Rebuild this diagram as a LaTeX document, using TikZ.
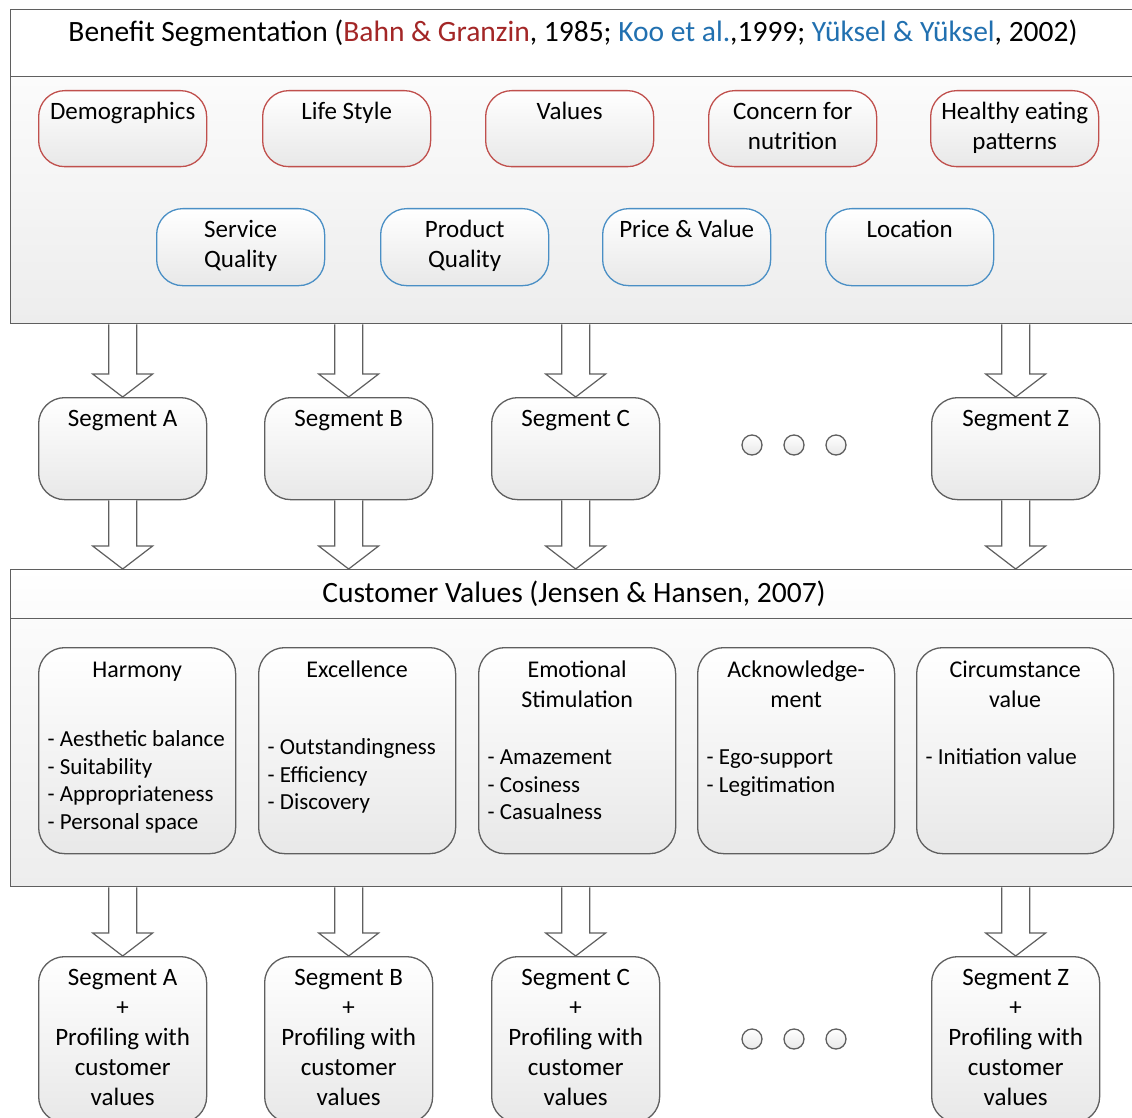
\documentclass[tikz,border=0pt]{standalone}
\usepackage{fontspec}
\setmainfont{Carlito}
\usetikzlibrary{calc}

\definecolor{lineGray}{HTML}{5F5F5F}
\definecolor{factorRed}{HTML}{C0504D}
\definecolor{factorBlue}{HTML}{4A8FC5}
\definecolor{citeRed}{HTML}{A32626}
\definecolor{citeBlue}{HTML}{2170B0}
\definecolor{panelTop}{HTML}{FBFBFB}
\definecolor{panelBottom}{HTML}{EDEDED}
\definecolor{boxBottom}{HTML}{E8E8E8}

% top-aligned, centred text block of a given width and height
\newcommand{\toptext}[3]{\parbox[t][#2][t]{#1}{\centering\strut #3}}
% customer-value box: centred heading, gap, left-aligned list
\newcommand{\cvtext}[3]{\parbox[t][188pt][t]{179pt}{%
  {\centering\strut #1\par}\vspace{#2}%
  {\fontsize{23}{27.5}\selectfont\raggedright #3\par}}}
% hollow block arrow from a point on a panel edge down to a box
\newcommand{\blockarrow}[2]{%
  \filldraw[arrowline] let \p1=(#1), \p2=(#2) in
    (\x1-14pt,\y1) -- (\x1-14pt,\y2+23pt) -- (\x1-30pt,\y2+23pt) --
    (\x1,\y2) -- (\x1+30pt,\y2+23pt) -- (\x1+14pt,\y2+23pt) -- (\x1+14pt,\y1);}

\tikzset{
  panel/.style={draw=lineGray, line width=1.4pt, anchor=north west,
    inner sep=0pt, minimum width=1140pt},
  shadedpanel/.style={panel, top color=panelTop, bottom color=panelBottom},
  roundbox/.style={draw=#1, line width=1.3pt, rounded corners=26pt,
    top color=white, bottom color=boxBottom, anchor=north west,
    inner xsep=0pt, inner ysep=8pt, font=\fontsize{25}{30}\selectfont},
  cvbox/.style={roundbox=lineGray, inner xsep=9pt, inner ysep=9pt,
    font=\fontsize{24}{30}\selectfont},
  arrowline/.style={draw=lineGray, fill=white, line width=1.2pt, line join=miter},
  dotmark/.style={circle, draw=lineGray, line width=1.3pt, top color=white,
    bottom color=boxBottom, minimum size=20pt, inner sep=0pt},
  heading/.style={font=\fontsize{29.5}{34}\selectfont},
}

\begin{document}
\begin{tikzpicture}[x=1pt,y=-1pt]
\useasboundingbox (0,0) rectangle (1132,1118);

% ---- benefit segmentation panel ----
\node[panel, fill=white, minimum height=67pt] (bsHead) at (10,9) {};
\node[shadedpanel, minimum height=247pt] (bsBody) at (10,76) {};
\node[heading] (bsTitle) at (573,33)
  {Benefit Segmentation (\textcolor{citeRed}{Bahn \& Granzin}, 1985;
   \textcolor{citeBlue}{Koo et al.},1999; \textcolor{citeBlue}{Yüksel \& Yüksel}, 2002)};

% consumer-related bases
\node[roundbox=factorRed] (fDemo)   at (38,90)  {\toptext{168pt}{60pt}{Demographics}};
\node[roundbox=factorRed] (fLife)   at (262,90) {\toptext{168pt}{60pt}{Life Style}};
\node[roundbox=factorRed] (fValues) at (485,90) {\toptext{168pt}{60pt}{Values}};
\node[roundbox=factorRed] (fNutr)   at (708,90) {\toptext{168pt}{60pt}{Concern for\\nutrition}};
\node[roundbox=factorRed] (fHealth) at (930,90) {\toptext{168pt}{60pt}{Healthy eating\\patterns}};
% restaurant-related bases
\node[roundbox=factorBlue] (fServ)  at (156,208) {\toptext{168pt}{61pt}{Service\\Quality}};
\node[roundbox=factorBlue] (fProd)  at (380,208) {\toptext{168pt}{61pt}{Product\\Quality}};
\node[roundbox=factorBlue] (fPrice) at (602,208) {\toptext{168pt}{61pt}{Price \& Value}};
\node[roundbox=factorBlue] (fLoc)   at (825,208) {\toptext{168pt}{61pt}{Location}};

% ---- segments ----
\node[roundbox=lineGray] (segA) at (38,397)  {\toptext{168pt}{86pt}{Segment A}};
\node[roundbox=lineGray] (segB) at (264,397) {\toptext{168pt}{86pt}{Segment B}};
\node[roundbox=lineGray] (segC) at (491,397) {\toptext{168pt}{86pt}{Segment C}};
\node[roundbox=lineGray] (segZ) at (931,397) {\toptext{168pt}{86pt}{Segment Z}};
\node[dotmark] (dotA1) at (752,445) {};
\node[dotmark] (dotA2) at (794,445) {};
\node[dotmark] (dotA3) at (836,445) {};

% ---- customer values panel ----
\node[panel, top color=white, bottom color=panelTop, minimum height=49pt] (cvHead) at (10,569) {};
\node[shadedpanel, minimum height=268pt] (cvBody) at (10,618) {};
\node[heading] (cvTitle) at (574,594)
  {Customer Values (Jensen \& Hansen, 2007)};

\node[cvbox] (cvHarm) at (38,647)
  {\cvtext{Harmony}{41.5pt}{- Aesthetic balance\\- Suitability\\- Appropriateness\\- Personal space}};
\node[cvbox] (cvExc) at (258,647)
  {\cvtext{Excellence}{49.5pt}{- Outstandingness\\- Efficiency\\- Discovery}};
\node[cvbox] (cvEmo) at (478,647)
  {\cvtext{Emotional\\Stimulation}{29.5pt}{- Amazement\\- Cosiness\\- Casualness}};
\node[cvbox] (cvAck) at (697,647)
  {\cvtext{Acknowledge-\\ment}{29.5pt}{- Ego-support\\- Legitimation}};
\node[cvbox] (cvCirc) at (916,647)
  {\cvtext{Circumstance\\value}{29.5pt}{- Initiation value}};

% ---- profiled segments ----
\node[roundbox=lineGray] (outA) at (38,956)  {\toptext{168pt}{150pt}{Segment A\\+\\Profiling with\\customer\\values}};
\node[roundbox=lineGray] (outB) at (264,956) {\toptext{168pt}{150pt}{Segment B\\+\\Profiling with\\customer\\values}};
\node[roundbox=lineGray] (outC) at (491,956) {\toptext{168pt}{150pt}{Segment C\\+\\Profiling with\\customer\\values}};
\node[roundbox=lineGray] (outZ) at (931,956) {\toptext{168pt}{150pt}{Segment Z\\+\\Profiling with\\customer\\values}};
\node[dotmark] (dotB1) at (752,1039) {};
\node[dotmark] (dotB2) at (794,1039) {};
\node[dotmark] (dotB3) at (836,1039) {};

% ---- block arrows ----
\foreach \s in {segA,segB,segC,segZ}{
  \blockarrow{\s.north |- bsBody.south}{\s.north}
  \blockarrow{\s.south}{\s.south |- cvHead.north}
}
\foreach \s in {outA,outB,outC,outZ}{
  \blockarrow{\s.north |- cvBody.south}{\s.north}
}
\end{tikzpicture}
\end{document}
